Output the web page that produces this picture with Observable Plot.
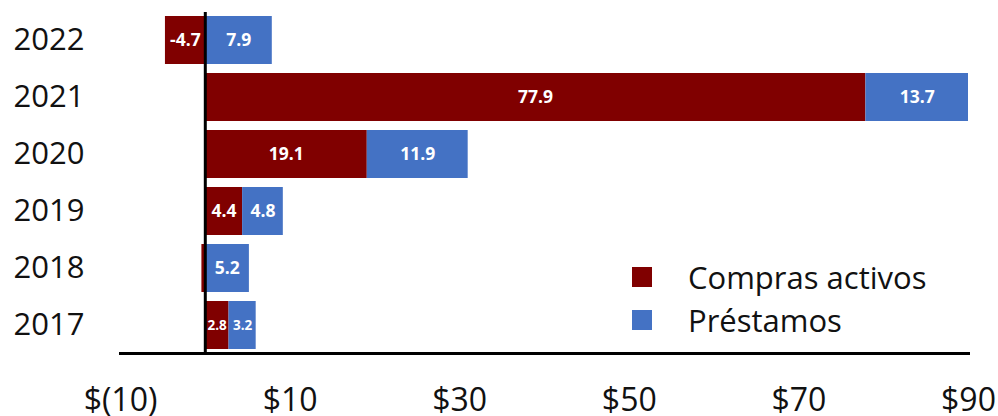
<!DOCTYPE html>
<html>
<head>
<meta charset="utf-8">
<script src="https://cdn.jsdelivr.net/npm/d3@7"></script>
<script src="https://cdn.jsdelivr.net/npm/@observablehq/plot@0.6"></script>
<style>
  body { margin: 0; background: #fff; font-family: "Open Sans", sans-serif; }
  #wrap { position: relative; width: 998px; height: 416px; }
  .legend { position: absolute; left: 632px; top: 255px; font-family: "Open Sans", sans-serif; font-size: 31px; color: #111; }
  .legend .item { display: flex; align-items: center; height: 43px; }
  .legend .sw { width: 20px; height: 20px; margin-right: 36px; }
</style>
</head>
<body>
<div id="wrap"></div>
<script>
const years = ["2022", "2021", "2020", "2019", "2018", "2017"];
const series = ["Compras activos", "Préstamos"];
const compras = [-4.7, 77.9, 19.1, 4.4, -0.4, 2.8];
const prestamos = [7.9, 13.7, 11.9, 4.8, 5.2, 3.2];
const colors = ["#800000", "#4472C4"];
const xTicks = [-10, 10, 30, 50, 70, 90];
const xDomain = [-10, 90];

const data = [];
years.forEach((y, i) => {
  data.push({year: y, series: series[0], value: compras[i]});
  data.push({year: y, series: series[1], value: prestamos[i]});
});

// label positions: midpoint of each stacked segment, clipped to the axis range
const clamp = v => Math.max(xDomain[0], Math.min(xDomain[1], v));
const labels = [];
years.forEach((y, i) => {
  let pos = 0, neg = 0;
  [compras[i], prestamos[i]].forEach((v, j) => {
    let a, b;
    if (v >= 0) { a = pos; b = pos + v; pos = b; } else { a = neg; b = neg + v; neg = b; }
    if (Math.abs(v) >= 1) labels.push({year: y, series: series[j], value: v, mid: (clamp(a) + clamp(b)) / 2});
  });
});

const fmt = d => d < 0 ? `$(${-d})` : `$${d}`;

const chart = Plot.plot({
  width: 998,
  height: 416,
  marginLeft: 120,
  marginRight: 30,
  marginTop: 12,
  marginBottom: 63,
  style: {fontFamily: "Open Sans, sans-serif", background: "#fff", overflow: "hidden"},
  x: {domain: xDomain, ticks: xTicks, tickFormat: fmt, tickSize: 0, tickPadding: 35, label: null},
  y: {domain: years, paddingInner: 0.164, paddingOuter: 0.052, tickSize: 0, tickPadding: 36, label: null},
  color: {domain: series, range: colors},
  marks: [
    Plot.barX(data, Plot.stackX({x: "value", y: "year", fill: "series", order: series, clip: true})),
    Plot.text(labels, {
      x: "mid", y: "year",
      text: d => d.value.toFixed(1),
      fill: "white", fontWeight: "bold",
      fontSize: d => Math.abs(d.value) < 3.5 ? 13.5 : 17.5
    }),
    Plot.ruleX([0], {stroke: "black", strokeWidth: 3}),
    Plot.frame({anchor: "bottom", stroke: "black", strokeWidth: 3})
  ]
});

const svg = d3.select(chart);
svg.selectAll('[aria-label="y-axis tick label"]').attr("font-size", 31).attr("fill", "#111");
svg.selectAll('[aria-label="x-axis tick label"]').attr("font-size", 32).attr("fill", "#111");

const wrap = document.getElementById("wrap");
wrap.appendChild(chart);
const legend = document.createElement("div");
legend.className = "legend";
series.forEach((s, i) => {
  const it = document.createElement("div");
  it.className = "item";
  const sw = document.createElement("div");
  sw.className = "sw";
  sw.style.background = colors[i];
  const lab = document.createElement("span");
  lab.textContent = s;
  it.appendChild(sw);
  it.appendChild(lab);
  legend.appendChild(it);
});
wrap.appendChild(legend);
</script>
</body>
</html>
